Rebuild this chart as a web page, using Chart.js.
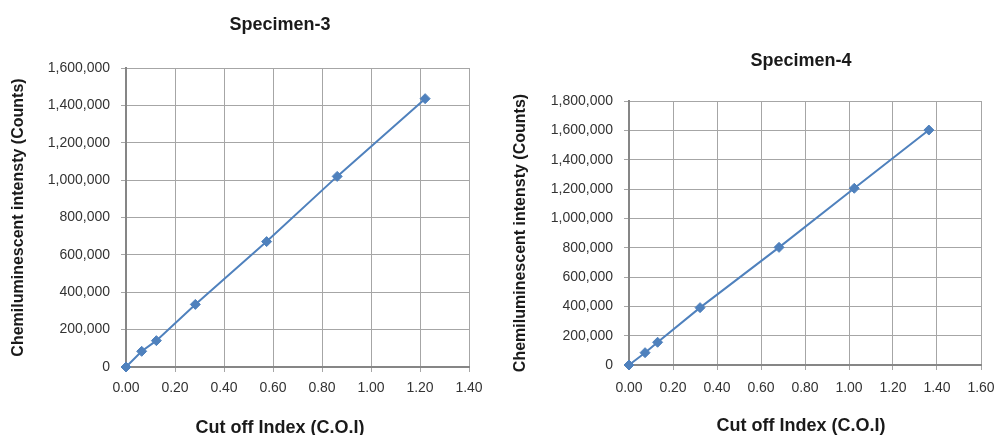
<!DOCTYPE html>
<html>
<head>
<meta charset="utf-8">
<script src="https://cdn.jsdelivr.net/npm/chart.js@4.4.1/dist/chart.umd.min.js"></script>
<style>
  body { margin: 0; background: #fff; overflow: hidden; width: 996px; height: 435px; position: relative; }
  .wrap { position: absolute; top: 0; height: 435px; }
</style>
</head>
<body>
<div class="wrap" style="left:0;width:560px"><canvas id="spec3" width="560" height="435"></canvas></div>
<div class="wrap" style="left:500px;width:602px"><canvas id="spec4" width="602" height="435"></canvas></div>
<script>
// Specimen-3
const spec3Coi = [0, 0.064, 0.124, 0.283, 0.574, 0.862, 1.221];
const spec3Counts = [0, 84000, 141000, 335000, 671000, 1020000, 1436000];
// Specimen-4
const spec4Coi = [0, 0.073, 0.130, 0.323, 0.682, 1.024, 1.363];
const spec4Counts = [0, 84000, 155000, 391000, 802000, 1205000, 1602000];

const xTitle = 'Cut off Index (C.O.I)';
const yTitle = 'Chemiluminescent intensty (Counts)';

(function () {
  const LINE = '#4f81bd';
  const GRID = '#a6a6a6';
  const AXIS = '#868686';
  const TEXT = '#333333';
  const TITLE = '#1a1a1a';
  const FONT = "'Liberation Sans', Arial, sans-serif";

  Chart.defaults.font.family = FONT;
  Chart.defaults.color = TEXT;

  function render(canvasId, xs, ys, o) {
    const points = xs.map((x, i) => ({ x, y: ys[i] }));
    return new Chart(document.getElementById(canvasId), {
      type: 'scatter',
      data: {
        datasets: [{
          data: points,
          showLine: true,
          borderColor: LINE,
          borderWidth: 2,
          backgroundColor: LINE,
          pointStyle: 'rectRot',
          pointRadius: 5,
          pointBorderWidth: 1,
          pointBorderColor: LINE,
          clip: false,
        }],
      },
      options: {
        responsive: false,
        animation: false,
        plugins: {
          legend: { display: false },
          tooltip: { enabled: false },
          title: {
            display: true, text: o.title, color: TITLE,
            font: { size: 18, weight: 'bold' },
            padding: { top: o.titleTop, bottom: o.titleBottom },
          },
          // x axis title drawn as a bottom subtitle so it centres with the chart title
          subtitle: {
            display: true, text: xTitle, color: TITLE, position: 'bottom',
            font: { size: 18, weight: 'bold' },
            padding: { top: o.xTitleTop, bottom: o.xTitleBottom },
          },
        },
        scales: {
          x: {
            type: 'linear', min: 0, max: o.xMax,
            ticks: { stepSize: 0.2, padding: o.xTickPad, color: TEXT, font: { size: 14 },
              callback: v => v.toFixed(2) },
            grid: { color: GRID, tickLength: 5 },
            border: { color: AXIS, width: 2 },
            afterFit: s => { s.height = o.xAxisH; },
          },
          y: {
            type: 'linear', min: 0, max: o.yMax,
            ticks: { stepSize: 200000, padding: 11, color: TEXT, font: { size: 14 },
              callback: v => v.toLocaleString('en-US') },
            grid: { color: GRID, tickLength: 5 },
            border: { color: AXIS, width: 2 },
            title: { display: true, text: yTitle, color: TITLE,
              font: { size: 16, weight: 'bold' }, padding: { top: o.yTitlePad, bottom: 0 } },
            afterFit: s => { s.width = o.yAxisW; },
          },
          // empty spacer on the right so the full-width titles centre like the original
          pad: {
            type: 'linear', position: 'right', display: true,
            grid: { display: false }, border: { display: false }, ticks: { display: false },
            afterFit: s => { s.width = o.rightGap; },
          },
        },
      },
    });
  }

  render('spec3', spec3Coi, spec3Counts, {
    title: 'Specimen-3', xMax: 1.4, yMax: 1600000,
    titleTop: 14, titleBottom: 32.4, yAxisW: 126, yTitlePad: 9,
    xAxisH: 30, xTickPad: 8, xTitleTop: 20.2, xTitleBottom: -3.8,
    rightGap: 91,
  });

  render('spec4', spec4Coi, spec4Counts, {
    title: 'Specimen-4', xMax: 1.6, yMax: 1800000,
    titleTop: 50, titleBottom: 29.4, yAxisW: 129, yTitlePad: 11.4,
    xAxisH: 32, xTickPad: 10, xTitleTop: 18.2, xTitleBottom: -1.8,
    rightGap: 121,
  });
})();
</script>
</body>
</html>
